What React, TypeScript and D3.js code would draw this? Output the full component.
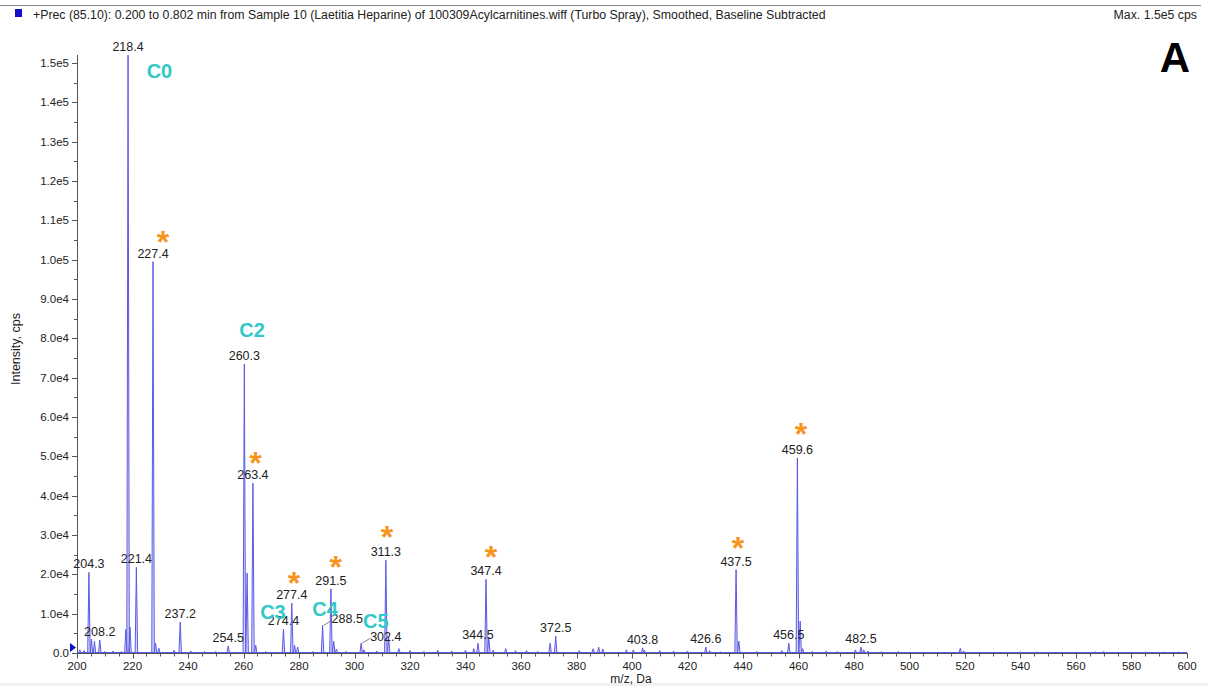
import React from "react";
import * as d3 from "d3";

// ---- data ----
const peakMz = [204.3, 205.2, 206.3, 208.2, 217.6, 218.4, 219.1, 221.4, 227.4, 228.3, 237.2, 254.5, 260.3, 261.3, 263.4, 264.4, 274.4, 277.4, 278.4, 288.5, 291.5, 292.5, 302.4, 311.3, 312.3, 344.5, 347.4, 348.4, 370.5, 372.5, 403.8, 426.6, 437.5, 438.5, 456.5, 459.6, 460.6, 482.5, 518.3];
const peakInt = [20500, 3500, 3000, 3300, 6000, 152000, 6600, 21800, 99500, 2500, 7900, 1800, 73500, 20300, 43200, 2000, 6100, 12700, 2000, 7000, 16300, 3000, 2500, 23600, 4000, 2500, 18700, 4000, 2500, 4300, 1300, 1500, 21200, 3000, 2500, 49600, 8100, 1500, 1200];

const noiseMz = [201, 202.5, 210, 213, 216, 229.5, 235, 241, 246, 250, 268, 279.5, 285, 293.5, 297, 303.4, 308, 316, 320, 325, 330, 335, 340, 343, 350, 354.5, 358, 362, 366, 381, 386, 388, 389.5, 398, 400.5, 404.5, 410, 415, 420, 428, 432, 445, 454, 461.5, 465, 470, 474, 480.5, 483.5, 485, 490, 496, 519.5, 540, 546, 567, 570, 585, 592, 597];
const noiseInt = [800, 600, 400, 500, 400, 1200, 700, 500, 400, 400, 400, 1500, 400, 1000, 400, 800, 500, 1100, 600, 400, 700, 500, 700, 1100, 700, 1100, 600, 600, 400, 600, 1100, 1500, 1000, 800, 800, 700, 600, 500, 500, 600, 300, 400, 600, 1100, 400, 500, 400, 800, 800, 500, 300, 400, 500, 250, 300, 300, 400, 250, 300, 250];

const labelMz = [204.3, 208.2, 218.4, 221.4, 227.4, 237.2, 254.5, 260.3, 263.4, 274.4, 277.4, 288.5, 291.5, 302.4, 311.3, 344.5, 347.4, 372.5, 403.8, 426.6, 437.5, 456.5, 459.6, 482.5];
const labelInt = [20500, 3300, 152000, 21800, 99500, 7900, 1800, 73500, 43200, 6100, 12700, 7000, 16300, 2500, 23600, 2500, 18700, 4300, 1300, 1500, 21200, 2500, 49600, 1500];
const leaderLabels = ["288.5", "302.4"];

const carnNames = ["C0", "C2", "C3", "C4", "C5"];
const carnMz = [229.7, 263.1, 270.6, 289.4, 307.7];
const carnInt = [148000, 82100, 10400, 11200, 8100];

const starMz = [231.0, 264.3, 278.2, 293.2, 311.7, 349.2, 438.2, 460.9];
const starInt = [106000, 49800, 19400, 23500, 31100, 25900, 28300, 57300];

const xTicks = d3.range(200, 601, 20);
const xMinor = d3.range(200, 601, 5);
const yTicks = d3.range(0, 150001, 10000);
const yMinor = d3.range(0, 150001, 5000);

const fmtY = (v: number) => (v === 0 ? "0.0" : v.toExponential(1).replace("e+", "e"));

export default function App() {
  const W = 1208, H = 686;
  const x = d3.scaleLinear().domain([200, 600]).range([77, 1187]);
  const y = d3.scaleLinear().domain([0, 150000]).range([653, 63]);
  const hw = 0.45;
  const line = d3.line<[number, number]>().x((d) => x(d[0])).y((d) => y(d[1]));
  const peakPath = (mz: number, h: number) => line([[mz - hw, 0], [mz, h], [mz + hw, 0]]) as string;
  const lineColor = "#5a5ae6";
  const font = "Arial, 'Liberation Sans', sans-serif";

  return (
    <svg width={W} height={H} style={{ position: "fixed", left: 0, top: 0, background: "#fff" }} fontFamily={font}>
      <rect x={0} y={0} width={W} height={H} fill="#fff" />
      <rect x={0} y={683} width={W} height={3} fill="#f1f1f1" />
      {/* header */}
      <line x1={0} x2={1201} y1={5.5} y2={5.5} stroke="#8a8a8a" strokeWidth={1} />
      <rect x={15} y={9} width={7} height={8} fill="#1010c8" />
      <text x={33} y={19} fontSize={12.3} fill="#222">+Prec (85.10): 0.200 to 0.802 min from Sample 10 (Laetitia Heparine) of 100309Acylcarnitines.wiff (Turbo Spray), Smoothed, Baseline Subtracted</text>
      <text x={1197} y={19} fontSize={12.3} fill="#222" textAnchor="end">Max. 1.5e5 cps</text>
      <text x={1175} y={72} fontSize={42} fontWeight="bold" fill="#000" textAnchor="middle">A</text>

      {/* y axis */}
      <line x1={77.5} x2={77.5} y1={55} y2={653} stroke="#555" />
      {yMinor.map((v) => (
        <line key={"ym" + v} x1={74} x2={77.5} y1={Math.round(y(v)) + 0.5} y2={Math.round(y(v)) + 0.5} stroke="#555" />
      ))}
      {yTicks.map((v) => (
        <g key={"yt" + v}>
          <line x1={72} x2={77.5} y1={Math.round(y(v)) + 0.5} y2={Math.round(y(v)) + 0.5} stroke="#555" />
          <text x={69} y={y(v) + 4} fontSize={11.5} textAnchor="end" fill="#222">{fmtY(v)}</text>
        </g>
      ))}
      <text transform={`translate(20,349) rotate(-90)`} fontSize={12.5} textAnchor="middle" fill="#222">Intensity, cps</text>

      {/* x axis */}
      <line x1={77} x2={1188} y1={653.5} y2={653.5} stroke="#555" />
      {xMinor.map((v) => (
        <line key={"xm" + v} x1={Math.round(x(v)) + 0.5} x2={Math.round(x(v)) + 0.5} y1={653.5} y2={656.5} stroke="#555" />
      ))}
      {xTicks.map((v) => (
        <g key={"xt" + v}>
          <line x1={Math.round(x(v)) + 0.5} x2={Math.round(x(v)) + 0.5} y1={653.5} y2={658.5} stroke="#555" />
          <text x={x(v)} y={670} fontSize={11.5} textAnchor="middle" fill="#222">{v}</text>
        </g>
      ))}
      <text x={631} y={683} fontSize={12} textAnchor="middle" fill="#222">m/z, Da</text>

      {/* spectrum */}
      <line x1={77} x2={1187} y1={652.5} y2={652.5} stroke={lineColor} strokeWidth={1} />
      {noiseMz.map((m, i) => (
        <path key={"n" + i} d={peakPath(m, noiseInt[i])} fill="none" stroke={lineColor} strokeWidth={1} />
      ))}
      {peakMz.map((m, i) => (
        <path key={"p" + i} d={peakPath(m, peakInt[i])} fill="rgba(110,110,235,0.25)" stroke={lineColor} strokeWidth={1} />
      ))}
      <path d="M70,643 L76,647.5 L70,652 Z" fill="#1010c8" />

      {/* peak labels */}
      {labelMz.map((m, i) => {
        const txt = m.toFixed(1);
        const px = x(m), py = y(labelInt[i]);
        if (leaderLabels.includes(txt)) {
          return (
            <g key={"l" + i}>
              <line x1={px + 1} y1={py} x2={px + 9} y2={py - 5} stroke="#666" strokeWidth={0.8} />
              <text x={px + 9} y={py - 2} fontSize={12.5} fill="#222">{txt}</text>
            </g>
          );
        }
        return (
          <text key={"l" + i} x={px} y={py - 4} fontSize={12.5} textAnchor="middle" fill="#222">{txt}</text>
        );
      })}

      {/* annotations */}
      {carnNames.map((n, i) => (
        <text key={"c" + n} x={x(carnMz[i])} y={y(carnInt[i]) + 7} fontSize={20} fontWeight="bold" fill="#33c8c8" textAnchor="middle">{n}</text>
      ))}
      {starMz.map((m, i) => (
        <text key={"s" + i} x={x(m)} y={y(starInt[i]) + 17} fontSize={32} fontWeight="bold" fill="#f7941d" textAnchor="middle">*</text>
      ))}
    </svg>
  );
}
